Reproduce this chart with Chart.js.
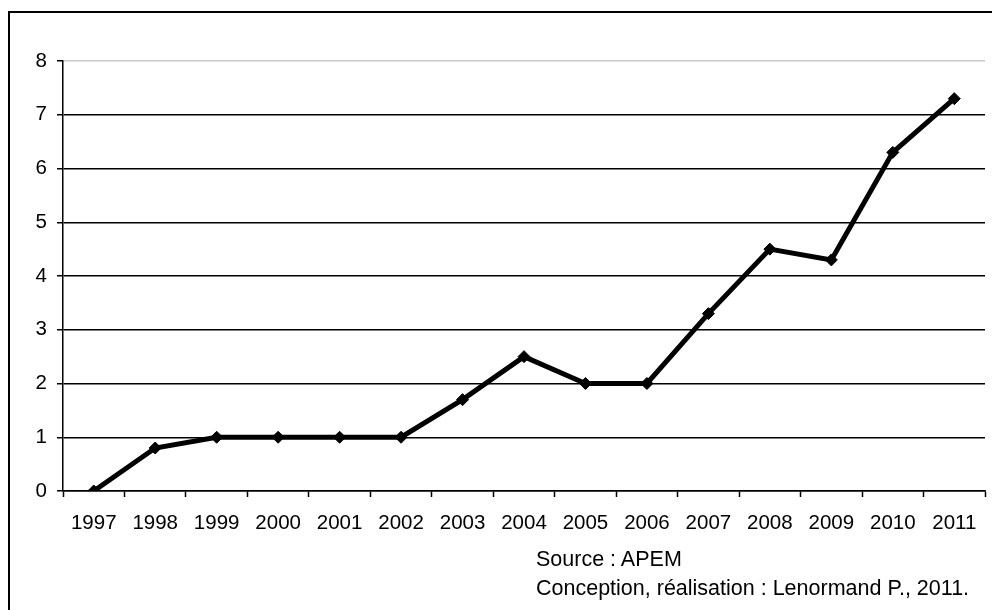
<!DOCTYPE html>
<html>
<head>
<meta charset="utf-8">
<script src="https://cdn.jsdelivr.net/npm/chart.js@4"></script>
<style>
    html, body { margin: 0; padding: 0; background: #fff; overflow: hidden; }
    #wrap { position: relative; width: 992px; height: 610px; }
    #frame {
        position: absolute; left: 8px; top: 11px;
        width: 1000px; height: 700px;
        border: 2px solid #000;
    }
    canvas { position: absolute; left: 0; top: 0; }
    .note {
        position: absolute; left: 536px;
        font-family: "Liberation Sans", Arial, sans-serif;
        font-size: 21.5px; line-height: 24px; color: #000;
        white-space: nowrap;
    }
</style>
</head>
<body>
<div id="wrap">
    <div id="frame"></div>
    <canvas id="chart" width="992" height="610"></canvas>
    <div class="note" style="top: 547px;">Source : APEM</div>
    <div class="note" style="top: 576px;">Conception, réalisation : Lenormand P., 2011.</div>
</div>
<script>
// data
const years = ['1997', '1998', '1999', '2000', '2001', '2002', '2003', '2004',
    '2005', '2006', '2007', '2008', '2009', '2010', '2011'];
const values = [0, 0.8, 1, 1, 1, 1, 1.7, 2.5, 2, 2, 3.3, 4.5, 4.3, 6.3, 7.3];
const yTicks = [0, 1, 2, 3, 4, 5, 6, 7, 8];

const tickFont = { family: '"Liberation Sans", Arial, sans-serif', size: 20.5 };

const ctx = document.getElementById('chart').getContext('2d');
new Chart(ctx, {
    type: 'line',
    data: {
        labels: years,
        datasets: [{
            data: values,
            borderColor: '#000',
            backgroundColor: '#000',
            borderWidth: 5,
            pointStyle: 'rectRot',
            pointRadius: 6,
            pointBackgroundColor: '#000',
            pointBorderColor: '#000',
            pointBorderWidth: 1,
            tension: 0,
            fill: false
        }]
    },
    options: {
        responsive: false,
        animation: false,
        layout: { padding: { left: 0, top: 61, right: 5, bottom: 0 } },
        plugins: {
            legend: { display: false },
            tooltip: { enabled: false }
        },
        scales: {
            x: {
                type: 'category',
                offset: true,
                grid: {
                    offset: true,
                    drawOnChartArea: false,
                    drawTicks: true,
                    tickLength: 6,
                    tickColor: '#000',
                    tickWidth: 1.5
                },
                border: { color: '#000', width: 1.5 },
                ticks: {
                    color: '#000',
                    font: tickFont,
                    padding: 14,
                    maxRotation: 0,
                    autoSkip: false
                },
                afterFit: (scale) => { scale.height = 610 - 491; }
            },
            y: {
                min: 0,
                max: 8,
                afterBuildTicks: (scale) => { scale.ticks = yTicks.map(v => ({ value: v })); },
                grid: {
                    color: (c) => (c.tick && c.tick.value === 8) ? '#c8c8c8' : '#000',
                    lineWidth: 1.5,
                    drawTicks: true,
                    tickLength: 6,
                    tickColor: '#000',
                    tickWidth: 1.5
                },
                border: { color: '#000', width: 1.5 },
                ticks: {
                    color: '#000',
                    font: tickFont,
                    padding: 10
                },
                afterFit: (scale) => { scale.width = 63; }
            }
        }
    }
});
</script>
</body>
</html>
